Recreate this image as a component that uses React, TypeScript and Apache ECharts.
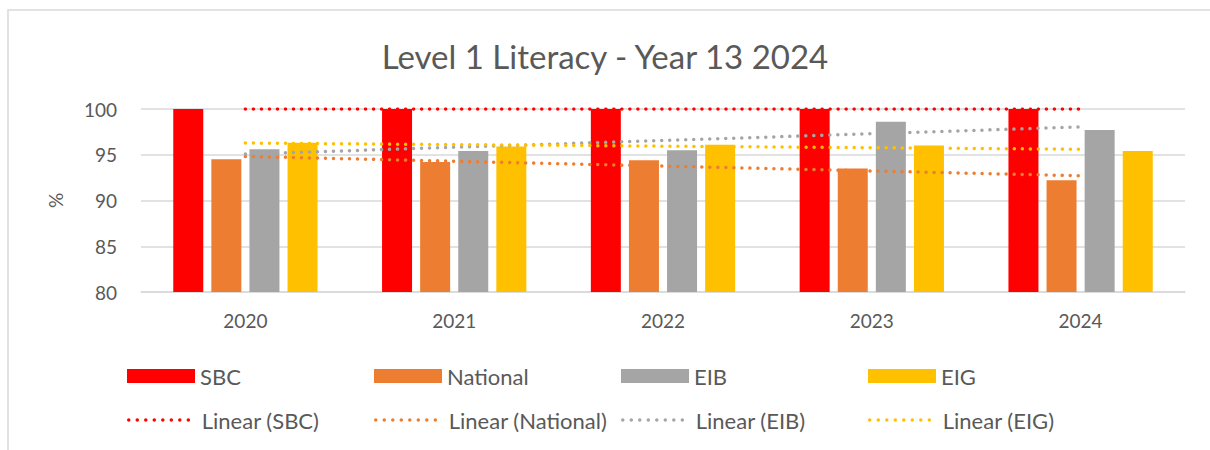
import React, { useEffect, useRef } from "react";
import * as echarts from "echarts";

const years = ["2020", "2021", "2022", "2023", "2024"];
const sbc = [100, 100, 100, 100, 100];
const national = [94.5, 94.2, 94.4, 93.5, 92.2];
const eib = [95.6, 95.4, 95.5, 98.6, 97.7];
const eig = [96.3, 95.9, 96.1, 96.0, 95.4];

// Linear trendline end points (first year, last year)
const trendSBC = [100, 100];
const trendNational = [94.82, 92.7];
const trendEIB = [95.08, 98.04];
const trendEIG = [96.28, 95.6];

const yTicks = { min: 80, max: 100, interval: 5 };

const FONT = "Lato";
const TXT = "#595959";

export default function App() {
  const ref = useRef<HTMLDivElement>(null);
  useEffect(() => {
    if (!ref.current) return;
    const chart = echarts.init(ref.current, undefined, { renderer: "svg" });
    const trendPts = (v: number[]) => [
      [0, v[0]],
      [years.length - 1, v[1]],
    ];
    const barStyle = (c: string) => ({ color: c });
    const dotted = (c: string) => ({
      color: c,
      width: 3.5,
      type: [0.01, 8] as any,
      cap: "round" as any,
    });
    const legendItem = (name: string, left: number, top: number, isLine: boolean) => ({
      data: [isLine ? name : { name, icon: "rect" }],
      left,
      top,
      padding: 0,
      itemWidth: 68,
      itemHeight: 14,
      itemGap: 0,
      textStyle: { color: TXT, fontSize: 22, fontFamily: FONT },
      selectedMode: false,
      ...(isLine
        ? {
            itemStyle: { color: "rgba(0,0,0,0)", borderWidth: 0, opacity: 0 },
            lineStyle: { width: 3.5, cap: "round", type: [0.01, 8.5] },
          }
        : {}),
    });
    const cols = [127, 374, 621, 868];
    const row1 = 365;
    const row2 = 409;
    const option: any = {
      animation: false,
      graphic: [
        {
          type: "rect",
          shape: { x: 8, y: 10, width: 1400, height: 600 },
          style: { fill: "none", stroke: "#d9d9d9", lineWidth: 1.5 },
          silent: true,
        },
      ],
      title: {
        text: "Level 1 Literacy - Year 13 2024",
        left: "center",
        top: 34,
        textStyle: { color: TXT, fontSize: 33, fontWeight: "normal", fontFamily: FONT },
      },
      legend: [
        legendItem("SBC", cols[0], row1, false),
        legendItem("National", cols[1], row1, false),
        legendItem("EIB", cols[2], row1, false),
        legendItem("EIG", cols[3], row1, false),
        legendItem("Linear (SBC)", cols[0], row2, true),
        legendItem("Linear (National)", cols[1], row2, true),
        legendItem("Linear (EIB)", cols[2], row2, true),
        legendItem("Linear (EIG)", cols[3], row2, true),
      ],
      grid: { left: 141, right: 25, top: 109, bottom: 158, containLabel: false },
      xAxis: {
        type: "category",
        data: years,
        axisLine: { lineStyle: { color: "#d9d9d9", width: 1.5 } },
        axisTick: { show: false },
        axisLabel: { color: TXT, fontSize: 19, fontFamily: FONT, margin: 19 },
      },
      yAxis: {
        type: "value",
        min: yTicks.min,
        max: yTicks.max,
        interval: yTicks.interval,
        name: "%",
        nameLocation: "middle",
        nameGap: 76,
        nameRotate: 90,
        nameTextStyle: { color: TXT, fontSize: 19, fontFamily: FONT },
        axisLine: { show: false },
        axisTick: { show: false },
        splitLine: { lineStyle: { color: "#d9d9d9", width: 1.5 } },
        axisLabel: { color: TXT, fontSize: 19, fontFamily: FONT, margin: 24 },
      },
      series: [
        { name: "SBC", type: "bar", data: sbc, itemStyle: barStyle("#ff0000"), barWidth: 30, barGap: "27%" },
        { name: "National", type: "bar", data: national, itemStyle: barStyle("#ed7d31"), barWidth: 30, barGap: "27%" },
        { name: "EIB", type: "bar", data: eib, itemStyle: barStyle("#a5a5a5"), barWidth: 30, barGap: "27%" },
        { name: "EIG", type: "bar", data: eig, itemStyle: barStyle("#ffc000"), barWidth: 30, barGap: "27%" },
        { name: "Linear (SBC)", type: "line", data: trendPts(trendSBC), symbol: "none", lineStyle: dotted("#ff0000"), itemStyle: { color: "#ff0000" }, z: 5 },
        { name: "Linear (National)", type: "line", data: trendPts(trendNational), symbol: "none", lineStyle: dotted("#ed7d31"), itemStyle: { color: "#ed7d31" }, z: 5 },
        { name: "Linear (EIB)", type: "line", data: trendPts(trendEIB), symbol: "none", lineStyle: dotted("#a5a5a5"), itemStyle: { color: "#a5a5a5" }, z: 5 },
        { name: "Linear (EIG)", type: "line", data: trendPts(trendEIG), symbol: "none", lineStyle: dotted("#ffc000"), itemStyle: { color: "#ffc000" }, z: 5 },
      ],
    };
    chart.setOption(option);
    return () => chart.dispose();
  }, []);
  return (
    <div
      ref={ref}
      style={{ position: "absolute", left: 0, top: 0, width: 1210, height: 450, background: "#fff" }}
    />
  );
}
